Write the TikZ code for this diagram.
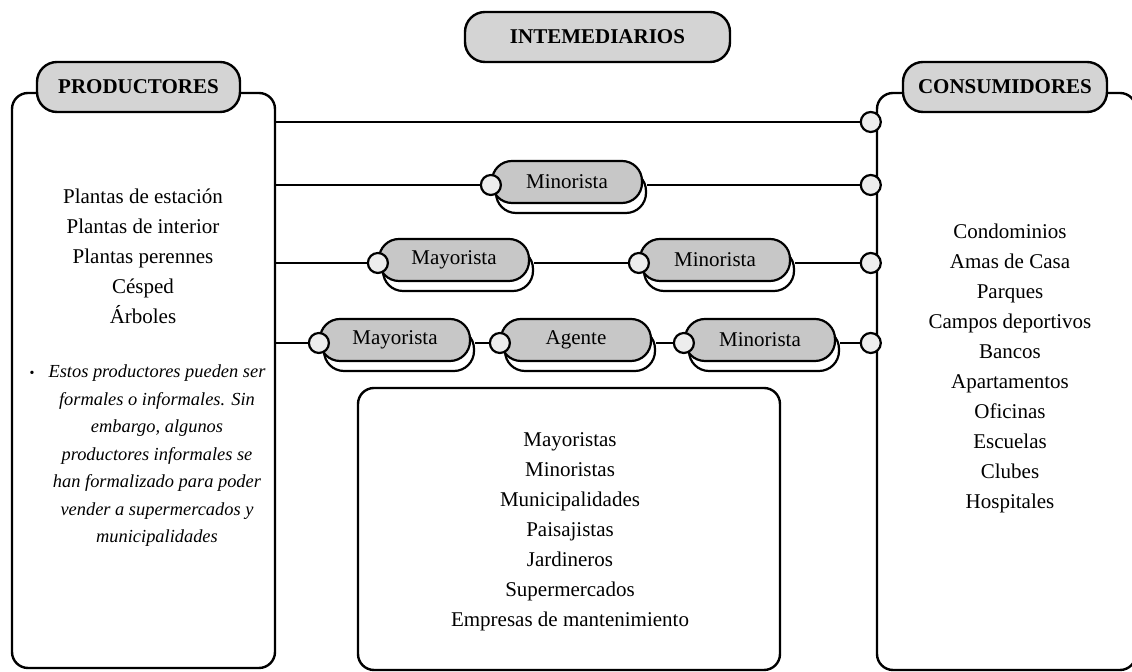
\documentclass[tikz,border=0pt]{standalone}
\usepackage{fontspec}
\setmainfont{Liberation Serif}
\usetikzlibrary{shadows}

\newcommand\normfont{\fontsize{10.5}{15}\selectfont}
\newcommand\notefont{\fontsize{9.2}{13.75}\selectfont\itshape}

\begin{document}
\begin{tikzpicture}[x=0.5pt, y=-0.5pt, line width=1pt,
    panel/.style={draw, line width=1.2pt, rounded corners=8pt},
    title/.style={draw, line width=1.2pt, fill=black!17, rounded corners=10pt,
      minimum width=#1, minimum height=25pt, font=\normfont\bfseries},
    chan/.style={draw, line width=1.1pt, fill=black!22, rounded corners=10pt,
      minimum width=75pt, minimum height=21pt, font=\normfont,
      copy shadow={shadow xshift=2pt, shadow yshift=-5pt, fill=white, draw=black, line width=1.1pt}},
    dot/.style={circle, draw, line width=1.1pt, fill=black!7, minimum size=10pt, inner sep=0pt},
    list/.style={align=center, font=\normfont}]
    \useasboundingbox (0, 0) rectangle (1132, 672);

    % big boxes
    \node[panel, minimum width=131.5pt, minimum height=287.5pt] (prod) at (143.5, 380.5) {};
    \node[panel, minimum width=129.5pt, minimum height=288.5pt] (cons) at (1006.5, 381.5) {};
    \node[panel, minimum width=211pt, minimum height=141pt] (mid) at (569, 529) {};

    \node[title=101.5pt] (prodtit) at (138.5, 87) {PRODUCTORES};
    \node[title=132.5pt] (intertit) at (597.5, 37) {INTEMEDIARIOS};
    \node[title=102pt] (constit) at (1005, 87) {CONSUMIDORES};

    % lists
    \node[list] (prodlist) at (143, 256)
    {Plantas de estación\\Plantas de interior\\Plantas perennes\\Césped\\Árboles};
    \node[align=center, font=\notefont] (prodnote) at (157, 456)
    {\llap{\upshape\scriptsize\textbullet\hspace{7pt}}Estos productores pueden ser\\
      formales o informales. Sin\\embargo, algunos\\productores informales se\\
      han formalizado para poder\\vender a supermercados y\\municipalidades};
    \node[list] (midlist) at (570, 532)
    {Mayoristas\\Minoristas\\Municipalidades\\Paisajistas\\Jardineros\\
      Supermercados\\Empresas de mantenimiento};
    \node[list] (conslist) at (1010, 368)
    {Condominios\\Amas de Casa\\Parques\\Campos deportivos\\Bancos\\
      Apartamentos\\Oficinas\\Escuelas\\Clubes\\Hospitales};

    % channels
    \node[chan] (min2) at (567, 182) {Minorista};
    \node[chan] (may3) at (454, 260) {Mayorista};
    \node[chan] (min3) at (715, 260) {Minorista};
    \node[chan] (may4) at (395, 340) {Mayorista};
    \node[chan] (age4) at (576, 340) {Agente};
    \node[chan] (min4) at (760, 340) {Minorista};

    \node[dot] (d2) at ([yshift=-1.5pt]min2.west) {};
    \node[dot] (d3a) at ([yshift=-1.5pt]may3.west) {};
    \node[dot] (d3b) at ([yshift=-1.5pt]min3.west) {};
    \node[dot] (d4a) at ([yshift=-1.5pt]may4.west) {};
    \node[dot] (d4b) at ([yshift=-1.5pt]age4.west) {};
    \node[dot] (d4c) at ([yshift=-1.5pt]min4.west) {};

    \coordinate (r1) at (0, 122);
    \node[dot] (e1) at ([xshift=-2.5pt]cons.west |- r1) {};
    \node[dot] (e2) at ([xshift=-2.5pt]cons.west |- d2) {};
    \node[dot] (e3) at ([xshift=-2.5pt]cons.west |- d3b) {};
    \node[dot] (e4) at ([xshift=-2.5pt]cons.west |- d4c) {};

    % connectors
    \draw (prod.east |- r1) -- (e1);
    \draw (prod.east |- d2) -- (d2);
    \draw ([xshift=2pt]min2.east |- e2) -- (e2);
    \draw (prod.east |- d3a) -- (d3a);
    \draw ([xshift=2pt]may3.east |- d3b) -- (d3b);
    \draw ([xshift=2pt]min3.east |- e3) -- (e3);
    \draw (prod.east |- d4a) -- (d4a);
    \draw ([xshift=2pt]may4.east |- d4b) -- (d4b);
    \draw ([xshift=2pt]age4.east |- d4c) -- (d4c);
    \draw ([xshift=2pt]min4.east |- e4) -- (e4);
\end{tikzpicture}
\end{document}
